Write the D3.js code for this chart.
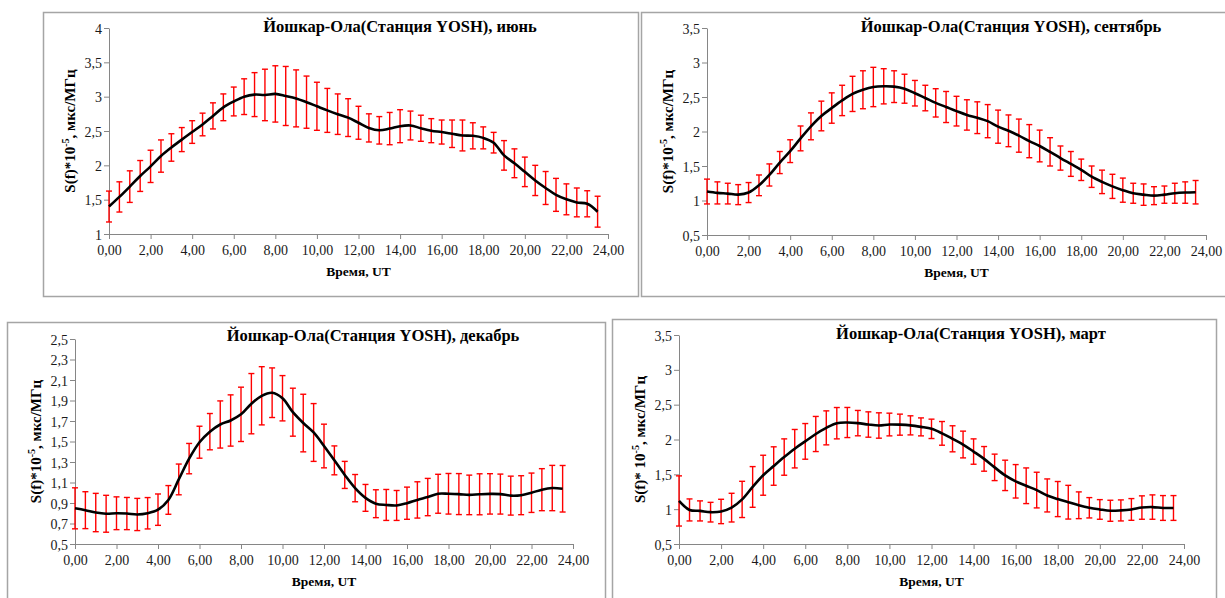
<!DOCTYPE html>
<html>
<head>
<meta charset="utf-8">
<script src="https://cdn.jsdelivr.net/npm/d3@7"></script>
<style>
  body { margin: 0; background: #fff; }
  svg { display: block; }
  svg text { font-family: 'Liberation Serif', Tinos, 'Times New Roman', Times, 'DejaVu Serif', serif; }
</style>
</head>
<body>
<div id="chart"></div>
<script>
// Half-hour time steps, UT
const hours = [0, 0.5, 1, 1.5, 2, 2.5, 3, 3.5, 4, 4.5, 5, 5.5, 6, 6.5, 7, 7.5, 8, 8.5, 9, 9.5,
  10, 10.5, 11, 11.5, 12, 12.5, 13, 13.5, 14, 14.5, 15, 15.5, 16, 16.5, 17, 17.5, 18, 18.5, 19, 19.5,
  20, 20.5, 21, 21.5, 22, 22.5, 23, 23.5];
const xTicks = [0, 2, 4, 6, 8, 10, 12, 14, 16, 18, 20, 22, 24];

// June
const juneMean = [1.40, 1.54, 1.69, 1.845, 1.985, 2.135, 2.26, 2.375, 2.485, 2.595, 2.72, 2.845, 2.93, 3.0, 3.03, 3.025, 3.04, 3.01, 2.975, 2.92,
  2.86, 2.80, 2.745, 2.695, 2.62, 2.545, 2.51, 2.535, 2.57, 2.58, 2.54, 2.505, 2.485, 2.46, 2.435, 2.43, 2.40, 2.33, 2.145, 2.03,
  1.905, 1.78, 1.67, 1.57, 1.505, 1.46, 1.44, 1.325];
const juneErr = [0.225, 0.22, 0.23, 0.225, 0.235, 0.235, 0.2, 0.175, 0.165, 0.165, 0.19, 0.195, 0.21, 0.26, 0.32, 0.375, 0.41, 0.43, 0.415, 0.38,
  0.35, 0.32, 0.295, 0.275, 0.24, 0.205, 0.2, 0.235, 0.24, 0.21, 0.19, 0.175, 0.175, 0.2, 0.225, 0.19, 0.16, 0.15, 0.215, 0.21,
  0.215, 0.22, 0.24, 0.24, 0.225, 0.21, 0.19, 0.225];
const juneTicks = [1, 1.5, 2, 2.5, 3, 3.5, 4];

// September
const septMean = [1.13, 1.11, 1.10, 1.085, 1.115, 1.22, 1.37, 1.55, 1.715, 1.90, 2.075, 2.225, 2.34, 2.45, 2.545, 2.605, 2.645, 2.655, 2.65, 2.62,
  2.555, 2.485, 2.415, 2.355, 2.295, 2.24, 2.20, 2.15, 2.07, 2.01, 1.94, 1.86, 1.79, 1.705, 1.615, 1.53, 1.445, 1.345, 1.27, 1.205,
  1.15, 1.105, 1.085, 1.07, 1.085, 1.105, 1.115, 1.12];
const septErr = [0.18, 0.16, 0.15, 0.145, 0.145, 0.15, 0.16, 0.16, 0.165, 0.18, 0.195, 0.215, 0.22, 0.22, 0.255, 0.275, 0.285, 0.255, 0.23, 0.21,
  0.185, 0.185, 0.205, 0.225, 0.215, 0.22, 0.23, 0.24, 0.24, 0.23, 0.24, 0.24, 0.23, 0.205, 0.175, 0.18, 0.155, 0.155, 0.17, 0.175,
  0.175, 0.145, 0.155, 0.13, 0.125, 0.145, 0.155, 0.17];
const septTicks = [0.5, 1, 1.5, 2, 2.5, 3, 3.5];

// December
const decMean = [0.848, 0.83, 0.807, 0.795, 0.80, 0.797, 0.788, 0.80, 0.835, 0.93, 1.13, 1.333, 1.493, 1.596, 1.666, 1.705, 1.765, 1.869, 1.946, 1.976,
  1.922, 1.786, 1.68, 1.588, 1.456, 1.316, 1.174, 1.045, 0.95, 0.893, 0.881, 0.876, 0.898, 0.93, 0.958, 0.99, 0.99, 0.987, 0.979, 0.985,
  0.989, 0.987, 0.972, 0.976, 1.0, 1.03, 1.046, 1.039];
const decErr = [0.20, 0.18, 0.187, 0.18, 0.16, 0.157, 0.157, 0.153, 0.153, 0.14, 0.15, 0.148, 0.156, 0.177, 0.23, 0.25, 0.265, 0.294, 0.284, 0.242,
  0.221, 0.234, 0.281, 0.282, 0.213, 0.141, 0.132, 0.133, 0.131, 0.136, 0.151, 0.146, 0.157, 0.177, 0.182, 0.19, 0.198, 0.2, 0.193, 0.2,
  0.197, 0.195, 0.19, 0.19, 0.192, 0.205, 0.221, 0.227];
const decTicks = [0.5, 0.7, 0.9, 1.1, 1.3, 1.5, 1.7, 1.9, 2.1, 2.3, 2.5];

// March
const marMean = [1.118, 0.989, 0.975, 0.957, 0.967, 1.022, 1.14, 1.319, 1.487, 1.619, 1.748, 1.868, 1.973, 2.079, 2.167, 2.234, 2.244, 2.235, 2.215, 2.201,
  2.215, 2.213, 2.203, 2.181, 2.153, 2.088, 2.01, 1.928, 1.827, 1.722, 1.60, 1.485, 1.40, 1.336, 1.274, 1.197, 1.145, 1.10, 1.056, 1.02,
  0.996, 0.977, 0.982, 0.996, 1.023, 1.03, 1.017, 1.017];
const marErr = [0.36, 0.158, 0.144, 0.141, 0.175, 0.206, 0.26, 0.292, 0.287, 0.276, 0.261, 0.276, 0.256, 0.252, 0.244, 0.225, 0.216, 0.182, 0.182, 0.182,
  0.163, 0.151, 0.137, 0.129, 0.139, 0.17, 0.187, 0.192, 0.182, 0.177, 0.19, 0.218, 0.24, 0.256, 0.256, 0.237, 0.252, 0.242, 0.192, 0.146,
  0.141, 0.151, 0.151, 0.156, 0.168, 0.175, 0.178, 0.178];
const marTicks = [0.5, 1, 1.5, 2, 2.5, 3, 3.5];

// Layout of the four pasted charts
const panels = [
  {title: 'Йошкар-Ола(Станция YOSH), июнь', mean: juneMean, err: juneErr, ticks: juneTicks, ylab: 'S(f)*10',
   frame: [43, 12, 638, 296], px: [109, 608], py: [234, 28], titleX: 400, titleY: 32},
  {title: 'Йошкар-Ола(Станция YOSH), сентябрь', mean: septMean, err: septErr, ticks: septTicks, ylab: 'S(f)*10',
   frame: [641, 12, 1228, 296], px: [707, 1206], py: [235, 28], titleX: 1011, titleY: 32},
  {title: 'Йошкар-Ола(Станция YOSH), декабрь', mean: decMean, err: decErr, ticks: decTicks, ylab: 'S(f)*10',
   frame: [7, 322, 605, 602], px: [75, 573], py: [544, 339], titleX: 373, titleY: 341},
  {title: 'Йошкар-Ола(Станция YOSH), март', mean: marMean, err: marErr, ticks: marTicks, ylab: 'S(f)* 10',
   frame: [612, 319, 1216, 602], px: [679, 1184], py: [544, 335], titleX: 971, titleY: 339}
];

const ruLocale = d3.formatLocale({decimal: ',', thousands: ' ', grouping: [3], currency: ['', '']});
const fmtX = ruLocale.format('.2f');
const fmtY = ruLocale.format('.2~f');

const svg = d3.select('#chart').append('svg')
  .attr('width', 1225)
  .attr('height', 598);

svg.append('rect').attr('width', 1225).attr('height', 598).attr('fill', '#fff');

panels.forEach(p => drawPanel(p));

function drawPanel(p) {
  const g = svg.append('g');
  const [fx0, fy0, fx1, fy1] = p.frame;

  // chart border
  g.append('rect')
    .attr('x', fx0 + 0.5).attr('y', fy0 + 0.5)
    .attr('width', fx1 - fx0).attr('height', fy1 - fy0)
    .attr('fill', '#fff')
    .attr('stroke', '#a5a5a5')
    .attr('stroke-width', 1.5);

  const x = d3.scaleLinear().domain([0, 24]).range(p.px);
  const y = d3.scaleLinear().domain(d3.extent(p.ticks)).range(p.py);

  // axes
  const xAxis = d3.axisBottom(x).tickValues(xTicks).tickSize(5).tickSizeOuter(0).tickFormat(fmtX);
  const yAxis = d3.axisLeft(y).tickValues(p.ticks).tickSize(5).tickSizeOuter(0).tickFormat(fmtY);

  const gx = g.append('g').attr('transform', 'translate(0,' + p.py[0] + ')').call(xAxis);
  const gy = g.append('g').attr('transform', 'translate(' + p.px[0] + ',0)').call(yAxis);

  [gx, gy].forEach(a => {
    a.attr('font-family', null).attr('font-size', 14);
    a.selectAll('path, line').attr('stroke', '#868686').attr('stroke-width', 1);
    a.selectAll('text').attr('fill', '#1a1a1a');
  });
  gx.selectAll('text').attr('dy', null).attr('y', 21);
  gy.selectAll('text').attr('x', -7).attr('dy', '0.36em');

  // error bars
  const bars = g.append('g').attr('stroke', '#ff0000').attr('stroke-width', 1.4);
  const cap = 3;
  hours.forEach((h, i) => {
    const cx = x(h);
    const top = y(p.mean[i] + p.err[i]);
    const bot = y(p.mean[i] - p.err[i]);
    bars.append('line').attr('x1', cx).attr('x2', cx).attr('y1', top).attr('y2', bot);
    bars.append('line').attr('x1', cx - cap).attr('x2', cx + cap).attr('y1', top).attr('y2', top);
    bars.append('line').attr('x1', cx - cap).attr('x2', cx + cap).attr('y1', bot).attr('y2', bot);
  });

  // smoothed mean line
  const line = d3.line()
    .x((d, i) => x(hours[i]))
    .y(d => y(d))
    .curve(d3.curveCatmullRom.alpha(0.5));

  g.append('path')
    .datum(p.mean)
    .attr('fill', 'none')
    .attr('stroke', '#000')
    .attr('stroke-width', 2.6)
    .attr('stroke-linejoin', 'round')
    .attr('d', line);

  // title and axis titles
  g.append('text')
    .attr('x', p.titleX).attr('y', p.titleY)
    .attr('text-anchor', 'middle')
    .attr('font-weight', 'bold')
    .attr('font-size', 16.5)
    .text(p.title);

  g.append('text')
    .attr('x', (p.px[0] + p.px[1]) / 2).attr('y', p.py[0] + 42)
    .attr('text-anchor', 'middle')
    .attr('font-weight', 'bold')
    .attr('font-size', 13.5)
    .text('Время, UT');

  const cy = (p.py[0] + p.py[1]) / 2;
  const yl = g.append('text')
    .attr('transform', 'translate(' + (p.px[0] - 34) + ',' + cy + ') rotate(-90)')
    .attr('text-anchor', 'middle')
    .attr('font-weight', 'bold')
    .attr('font-size', 15);
  yl.append('tspan').text(p.ylab);
  yl.append('tspan').attr('dy', -6).attr('font-size', 10).text('-5');
  yl.append('tspan').attr('dy', 6).text(', мкс/МГц');
}
</script>
</body>
</html>
